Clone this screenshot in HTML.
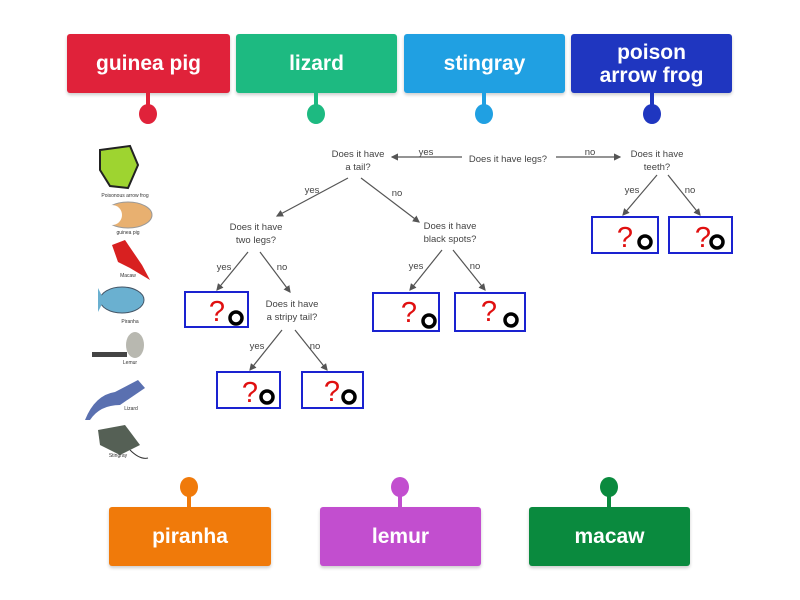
<!DOCTYPE html>
<html><head><meta charset="utf-8"><style>
body{margin:0;width:800px;height:600px;background:#fff;position:relative;overflow:hidden;font-family:"Liberation Sans",sans-serif}
.t{position:absolute;color:#fff;font-weight:bold;font-size:21px;display:flex;align-items:center;justify-content:center;text-align:center;line-height:23px;border-radius:3px;box-shadow:0 2px 3px rgba(0,0,0,.2)}
.pin{position:absolute;width:4px}
.dot{position:absolute;width:18px;height:20px;border-radius:50%}
</style></head><body>
<div class="t" style="left:67px;top:34px;width:163px;height:59px;background:#e0223a">guinea pig</div>
<div class="t" style="left:236px;top:34px;width:161px;height:59px;background:#1dba81">lizard</div>
<div class="t" style="left:404px;top:34px;width:161px;height:59px;background:#20a0e2">stingray</div>
<div class="t" style="left:571px;top:34px;width:161px;height:59px;background:#1f36c0">poison<br>arrow frog</div>
<div class="pin" style="left:146px;top:93px;height:14px;background:#e0223a"></div><div class="dot" style="left:139px;top:104px;background:#e0223a"></div>
<div class="pin" style="left:314px;top:93px;height:14px;background:#1dba81"></div><div class="dot" style="left:307px;top:104px;background:#1dba81"></div>
<div class="pin" style="left:482px;top:93px;height:14px;background:#20a0e2"></div><div class="dot" style="left:475px;top:104px;background:#20a0e2"></div>
<div class="pin" style="left:650px;top:93px;height:14px;background:#1f36c0"></div><div class="dot" style="left:643px;top:104px;background:#1f36c0"></div>

<div class="t" style="left:109px;top:507px;width:162px;height:59px;background:#f07a0a">piranha</div>
<div class="t" style="left:320px;top:507px;width:161px;height:59px;background:#c24ecf">lemur</div>
<div class="t" style="left:529px;top:507px;width:161px;height:59px;background:#0a8a3e">macaw</div>
<div class="pin" style="left:187px;top:490px;height:17px;background:#f07a0a"></div><div class="dot" style="left:180px;top:477px;background:#f07a0a"></div>
<div class="pin" style="left:398px;top:490px;height:17px;background:#c24ecf"></div><div class="dot" style="left:391px;top:477px;background:#c24ecf"></div>
<div class="pin" style="left:607px;top:490px;height:17px;background:#0a8a3e"></div><div class="dot" style="left:600px;top:477px;background:#0a8a3e"></div>

<svg width="800" height="600" style="position:absolute;left:0;top:0" font-family="Liberation Sans, sans-serif">
<defs><marker id="a" markerWidth="6" markerHeight="6" refX="5" refY="3" orient="auto"><path d="M0,0L6,3L0,6z" fill="#555"/></marker></defs>
<g fill="#444" font-size="9.5" text-anchor="middle">
<text x="358" y="157">Does it have</text><text x="358" y="170">a tail?</text>
<text x="508" y="162">Does it have legs?</text>
<text x="426" y="155">yes</text><text x="590" y="155">no</text>
<text x="657" y="157">Does it have</text><text x="657" y="170">teeth?</text>
<text x="256" y="230">Does it have</text><text x="256" y="243">two legs?</text>
<text x="450" y="229">Does it have</text><text x="450" y="242">black spots?</text>
<text x="292" y="307">Does it have</text><text x="292" y="320">a stripy tail?</text>
<text x="312" y="193">yes</text><text x="397" y="196">no</text>
<text x="224" y="270">yes</text><text x="282" y="270">no</text>
<text x="416" y="269">yes</text><text x="475" y="269">no</text>
<text x="257" y="349">yes</text><text x="315" y="349">no</text>
<text x="632" y="193">yes</text><text x="690" y="193">no</text>
</g>
<g stroke="#555" stroke-width="1.2" marker-end="url(#a)">
<line x1="462" y1="157" x2="392" y2="157"/><line x1="556" y1="157" x2="620" y2="157"/>
<line x1="348" y1="178" x2="277" y2="216"/><line x1="361" y1="178" x2="419" y2="222"/>
<line x1="248" y1="252" x2="217" y2="290"/><line x1="260" y1="252" x2="290" y2="292"/>
<line x1="282" y1="330" x2="250" y2="370"/><line x1="295" y1="330" x2="327" y2="370"/>
<line x1="442" y1="250" x2="410" y2="290"/><line x1="453" y1="250" x2="485" y2="290"/>
<line x1="657" y1="175" x2="623" y2="215"/><line x1="668" y1="175" x2="700" y2="215"/>
</g>
<g fill="none" stroke="#1a22d0" stroke-width="2">
<rect x="185" y="292" width="63" height="35"/><rect x="373" y="293" width="66" height="38"/><rect x="455" y="293" width="70" height="38"/>
<rect x="217" y="372" width="63" height="36"/><rect x="302" y="372" width="61" height="36"/>
<rect x="592" y="217" width="66" height="36"/><rect x="669" y="217" width="63" height="36"/>
</g>
<g fill="#e01010" font-size="29" text-anchor="middle">
<text x="217" y="321">?</text><text x="409" y="322">?</text><text x="489" y="321">?</text>
<text x="250" y="402">?</text><text x="332" y="401">?</text><text x="625" y="247">?</text><text x="703" y="247">?</text>
</g>
<g fill="none" stroke="#000" stroke-width="3.5">
<circle cx="236" cy="318" r="6"/><circle cx="429" cy="321" r="6"/><circle cx="511" cy="320" r="6"/>
<circle cx="267" cy="397" r="6"/><circle cx="349" cy="397" r="6"/><circle cx="645" cy="242" r="6"/><circle cx="717" cy="242" r="6"/>
</g>
<g font-size="5" fill="#333" text-anchor="middle">
<path d="M100,150 L130,146 L138,165 L128,188 L110,186 L100,170z" fill="#9ed430" stroke="#222" stroke-width="2"/>
<text x="125" y="197">Poisonous arrow frog</text>
<ellipse cx="128" cy="215" rx="24" ry="13" fill="#e8b070" stroke="#999"/><ellipse cx="112" cy="215" rx="10" ry="10" fill="#fff"/>
<text x="128" y="234">guinea pig</text>
<path d="M112,245 L125,240 L142,265 L150,280 L130,268 L118,262z" fill="#d82020"/>
<text x="128" y="277">Macaw</text>
<ellipse cx="122" cy="300" rx="22" ry="13" fill="#6ab0d0" stroke="#456"/><path d="M98,288 L104,300 L98,312z" fill="#6ab0d0"/>
<text x="130" y="323">Piranha</text>
<ellipse cx="135" cy="345" rx="9" ry="13" fill="#b8b8b0"/><rect x="92" y="352" width="35" height="5" fill="#444"/>
<text x="130" y="364">Lemur</text>
<path d="M85,420 Q95,395 115,392 L138,380 L145,388 L120,405 Q100,405 90,420z" fill="#5a70b0"/>
<text x="131" y="410">Lizard</text>
<path d="M98,430 L125,425 L140,445 L120,455 L100,445z" fill="#556055"/><path d="M130,450 Q140,460 148,458" stroke="#333" fill="none"/>
<text x="118" y="457">Stingray</text>
</g>
</svg>
</body></html>
